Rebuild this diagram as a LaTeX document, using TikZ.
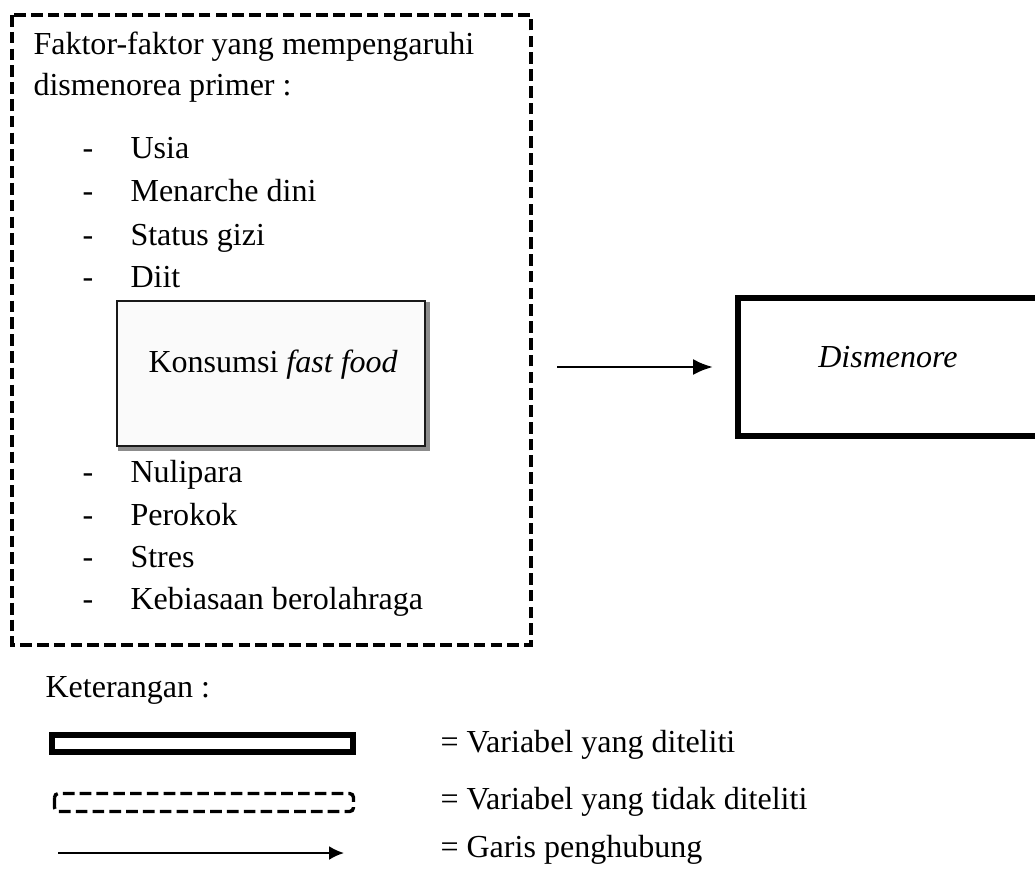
\documentclass[tikz,border=0pt]{standalone}
\usepackage{fontspec}
\setmainfont{Liberation Serif}
\usetikzlibrary{arrows.meta}

\begin{document}
\begin{tikzpicture}[x=0.387pt, y=-0.387pt,
  every node/.style={inner sep=0, font=\fontsize{12.4pt}{14pt}\selectfont},
  txt/.style={anchor=base west},
  bullet/.style={anchor=base west},
  notvar/.style={line width=1.3pt, dash pattern=on 4.5pt off 2pt},
  isvar/.style={line width=2.3pt},
  conn/.style={line width=1.1pt, -{Latex[length=7.7pt,width=6.2pt]}}]
\clip (0,0) rectangle (1035,870);
% Faktor (tidak diteliti)
\draw[notvar] (12,15) rectangle (531,645);
\node[txt] (t1) at (33,54) {Faktor-faktor yang mempengaruhi};
\node[txt] (t2) at (33,95) {dismenorea primer :};
\node[bullet] (h1) at (82,158) {-};
\node[txt] (f1) at (130,158) {Usia};
\node[bullet] (h2) at (82,201) {-};
\node[txt] (f2) at (130,201) {Menarche dini};
\node[bullet] (h3) at (82,245) {-};
\node[txt] (f3) at (130,245) {Status gizi};
\node[bullet] (h4) at (82,287) {-};
\node[txt] (f4) at (130,287) {Diit};
\draw[black!45, line width=1.2pt] (120,304) rectangle (428,449);
\draw[black!90, fill=black!2, line width=1pt] (117,301) rectangle (425,446);
\node[txt] (ff) at (148,372) {Konsumsi \textit{fast food}};
\node[bullet] (h5) at (82,482) {-};
\node[txt] (f5) at (130,482) {Nulipara};
\node[bullet] (h6) at (82,525) {-};
\node[txt] (f6) at (130,525) {Perokok};
\node[bullet] (h7) at (82,567) {-};
\node[txt] (f7) at (130,567) {Stres};
\node[bullet] (h8) at (82,609) {-};
\node[txt] (f8) at (130,609) {Kebiasaan berolahraga};
% Dismenore (diteliti)
\draw[isvar] (738,298) rectangle (1060,436);
\node[anchor=base] (d) at (888,367) {\textit{Dismenore}};
% Arrow
\coordinate (a0) at (557,367);
\coordinate (a1) at (713,367);
\draw[conn] (a0) -- (a1);
% Keterangan
\node[txt] (k) at (45,697) {Keterangan :};
\draw[isvar] (52,735) rectangle (353,752);
\node[txt] (k1) at (440,752) {= Variabel yang diteliti};
\draw[notvar, rounded corners=1.5pt] (54.5,793.5) rectangle (353.5,811.5);
\node[txt] (k2) at (440,809) {= Variabel yang tidak diteliti};
\coordinate (b0) at (58,853);
\coordinate (b1) at (344,853);
\draw[line width=0.8pt, -{Latex[length=5.8pt,width=5.4pt]}] (b0) -- (b1);
\node[txt] (k3) at (440,857) {= Garis penghubung};
\end{tikzpicture}
\end{document}
